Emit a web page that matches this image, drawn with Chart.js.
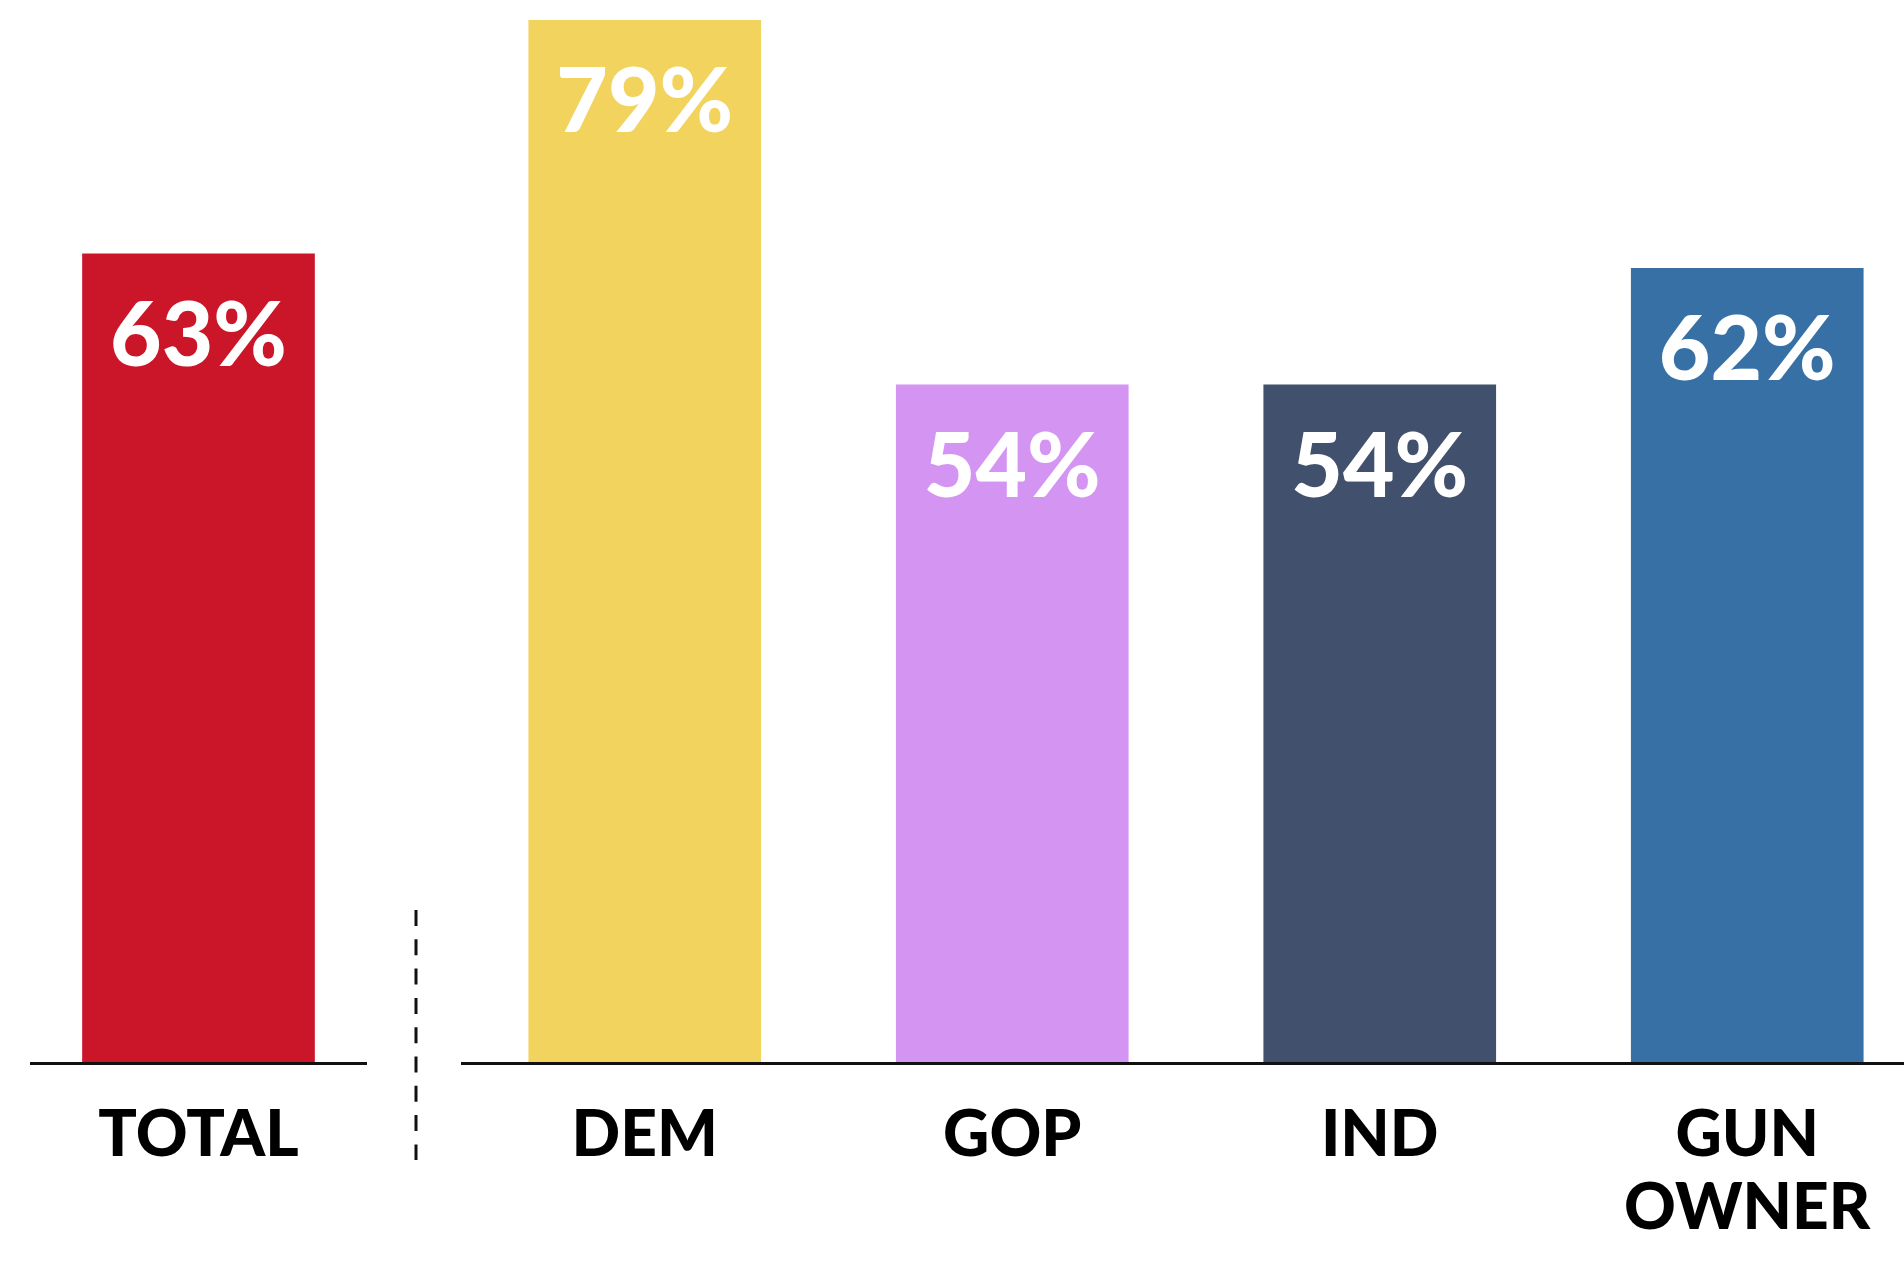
<!DOCTYPE html>
<html>
<head>
<meta charset="utf-8">
<script src="https://cdn.jsdelivr.net/npm/chart.js@4.4.1/dist/chart.umd.min.js"></script>
<style>
  html, body { margin: 0; padding: 0; background: #fff; overflow: hidden; }
  body { width: 1904px; height: 1270px; position: relative; }
  canvas { position: absolute; top: 0; }
  #totalChart { left: 0; }
  #groupChart { left: 461px; }
</style>
</head>
<body>
<canvas id="totalChart" width="440" height="1270"></canvas>
<canvas id="groupChart" width="1470" height="1270"></canvas>
<script>
// overall result
var totalLabels = ['TOTAL'];
var totalValues = [63];
var totalColors = ['#CB1529'];

// broken out by group
var groupLabels = ['DEM', 'GOP', 'IND', ['GUN', 'OWNER']];
var groupValues = [79, 54, 54, 62];
var groupColors = ['#F2D35E', '#D394F2', '#41506C', '#3770A5'];

var FONT = 'Lato';

// white percentage written inside the top of each bar
var valueLabels = {
    id: 'valueLabels',
    afterDatasetsDraw: function (chart) {
        var ctx = chart.ctx;
        var data = chart.data.datasets[0].data;
        ctx.save();
        ctx.fillStyle = '#fff';
        ctx.font = '900 89px ' + FONT;
        ctx.textAlign = 'center';
        ctx.textBaseline = 'alphabetic';
        chart.getDatasetMeta(0).data.forEach(function (bar, i) {
            ctx.fillText(data[i] + '%', bar.x, bar.y + 112);
        });
        ctx.restore();
    }
};

// dashed divider between the total and the groups
var divider = {
    id: 'divider',
    afterDraw: function (chart) {
        var ctx = chart.ctx;
        var x = chart.chartArea.right + 50;
        ctx.save();
        ctx.strokeStyle = '#111';
        ctx.lineWidth = 3;
        ctx.setLineDash([16, 13.3]);
        ctx.beginPath();
        ctx.moveTo(x, 910);
        ctx.lineTo(x, 1160);
        ctx.stroke();
        ctx.restore();
    }
};

function makeChart(id, labels, values, colors, padding, plugins) {
    var ctx = document.getElementById(id).getContext('2d');
    return new Chart(ctx, {
        type: 'bar',
        data: {
            labels: labels,
            datasets: [{
                data: values,
                backgroundColor: colors,
                borderWidth: 0,
                barThickness: 232
            }]
        },
        options: {
            responsive: false,
            animation: false,
            layout: { padding: padding },
            plugins: {
                legend: { display: false },
                tooltip: { enabled: false }
            },
            scales: {
                x: {
                    grid: { display: false, drawTicks: false },
                    border: { display: true, color: '#111', width: 3, z: 1 },
                    ticks: {
                        color: '#000',
                        padding: 36,
                        font: { family: FONT, size: 64, weight: '900', lineHeight: 1.14 }
                    },
                    afterFit: function (scale) { scale.height = 207; }
                },
                y: {
                    display: false,
                    min: 7.5,
                    max: 80.4
                }
            }
        },
        plugins: plugins
    });
}

makeChart('totalChart', totalLabels, totalValues, totalColors,
    { left: 31, right: 74, top: 0, bottom: 0 }, [valueLabels, divider]);
makeChart('groupChart', groupLabels, groupValues, groupColors,
    { left: 0, right: 0, top: 0, bottom: 0 }, [valueLabels]);
</script>
</body>
</html>
